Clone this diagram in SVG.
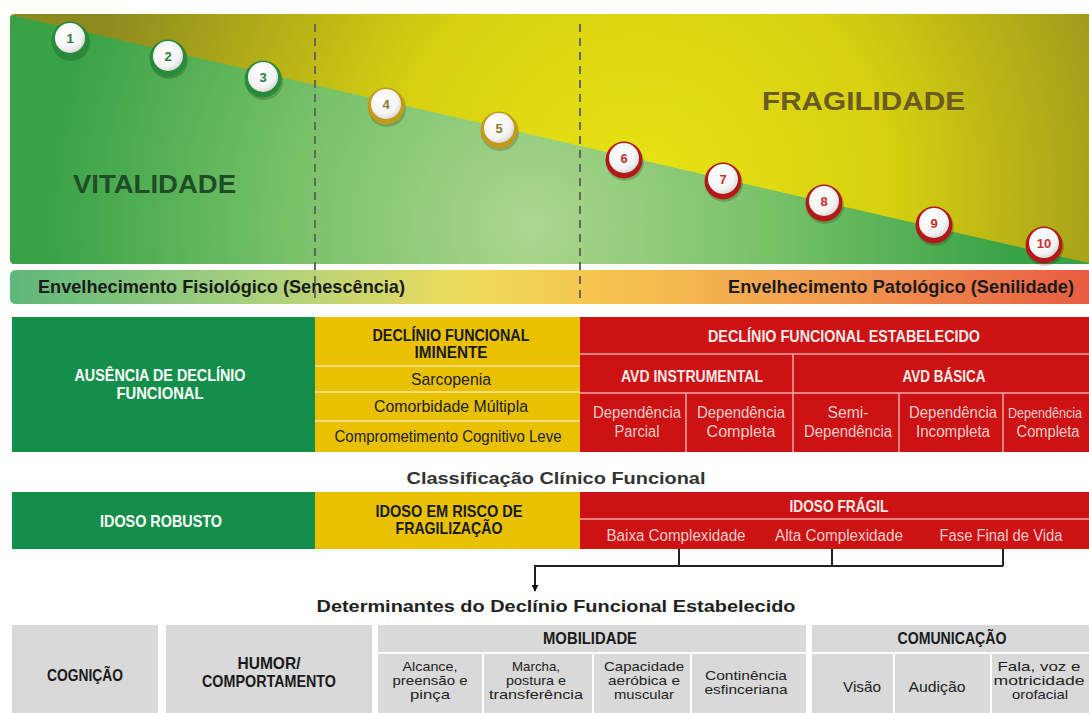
<svg xmlns="http://www.w3.org/2000/svg" width="1089" height="713" viewBox="0 0 1089 713">
<defs>
<radialGradient id="gYellow" cx="640" cy="190" r="560" gradientUnits="userSpaceOnUse">
<stop offset="0" stop-color="#e8e414"/><stop offset="0.45" stop-color="#d6d010"/><stop offset="1" stop-color="#8e8a20"/>
</radialGradient>
<radialGradient id="gGreen" cx="530" cy="225" r="480" gradientUnits="userSpaceOnUse">
<stop offset="0" stop-color="#acd68e"/><stop offset="0.5" stop-color="#78c268"/><stop offset="1" stop-color="#3aa246"/>
</radialGradient>
<linearGradient id="gBand" x1="0" y1="0" x2="1" y2="0">
<stop offset="0" stop-color="#5db77a"/><stop offset="0.22" stop-color="#a6d07e"/><stop offset="0.42" stop-color="#ecdc5c"/><stop offset="0.55" stop-color="#f6c44e"/><stop offset="0.78" stop-color="#f09850"/><stop offset="1" stop-color="#e85c40"/>
</linearGradient>
<radialGradient id="gBall" cx="0.4" cy="0.35" r="0.7">
<stop offset="0" stop-color="#ffffff"/><stop offset="0.7" stop-color="#f4f4f4"/><stop offset="1" stop-color="#d4d4d4"/>
</radialGradient>
<marker id="arr" viewBox="0 0 10 10" refX="9" refY="5" markerWidth="7" markerHeight="7" orient="auto" markerUnits="userSpaceOnUse">
<path d="M0,0 L10,5 L0,10 z" fill="#111"/>
</marker>
<style>
.b{font-family:"Liberation Sans",Arial,sans-serif;font-weight:bold;}
.r{font-family:"Liberation Sans",Arial,sans-serif;}
.c{text-anchor:middle;}
.dash{stroke:#666;stroke-width:2;stroke-dasharray:8,6;fill:none;}
.ringG{fill:#2a8a3c;}
.ringY{fill:#c49a1c;}
.ringR{fill:#b41818;}
.shadow{fill:#000;opacity:0.18;}
.ball{fill:url(#gBall);}
.num{font-family:"Liberation Sans",Arial,sans-serif;font-weight:bold;font-size:13px;text-anchor:middle;}
.wl{stroke:#f3e6a0;stroke-width:1.5;}
.pl{stroke:#f0a8a8;stroke-width:1.5;}
.gr{fill:#d9d9d9;}
.conn{stroke:#222;stroke-width:2;fill:none;}
</style>
</defs>

<g id="panel">
<path d="M15,14 H1089 V264 H15 Q10,264 10,259 V19 Q10,14 15,14 Z" fill="url(#gYellow)"/>
<path d="M11,15 L1089,263 V264 H15 Q10,264 10,259 V19 Z" fill="url(#gGreen)"/>
<text class="b" x="73" y="193" font-size="25" fill="#1e4d26" textLength="163" lengthAdjust="spacingAndGlyphs">VITALIDADE</text>
<text class="b" x="762" y="110" font-size="25" fill="#6b5a22" textLength="203" lengthAdjust="spacingAndGlyphs">FRAGILIDADE</text>
</g>

<g id="band">
<path d="M16,270 H1089 V304 H16 Q10,304 10,298 V276 Q10,270 16,270 Z" fill="url(#gBand)"/>
<text class="b" x="38" y="293" font-size="19" fill="#1a1a1a" textLength="367" lengthAdjust="spacingAndGlyphs">Envelhecimento Fisiológico (Senescência)</text>
<text class="b" x="728" y="293" font-size="19" fill="#1a1a1a" textLength="346" lengthAdjust="spacingAndGlyphs">Envelhecimento Patológico (Senilidade)</text>
</g>

<g id="dividers">
<line class="dash" x1="315" y1="24" x2="315" y2="304"/>
<line class="dash" x1="580" y1="24" x2="580" y2="304"/>
</g>

<g id="balls">
<g id="ball1"><circle class="shadow" cx="71" cy="42" r="19"/><circle class="ringG" cx="70" cy="40" r="18.5"/><circle class="ball" cx="70" cy="38" r="15"/><text class="num" x="70" y="43" fill="#2a7a3c">1</text></g>
<g id="ball2"><circle class="shadow" cx="169" cy="60" r="19"/><circle class="ringG" cx="168" cy="58" r="18.5"/><circle class="ball" cx="168" cy="56" r="15"/><text class="num" x="168" y="61" fill="#2a7a3c">2</text></g>
<g id="ball3"><circle class="shadow" cx="264" cy="81" r="19"/><circle class="ringG" cx="263" cy="79" r="18.5"/><circle class="ball" cx="263" cy="77" r="15"/><text class="num" x="263" y="82" fill="#2a7a3c">3</text></g>
<g id="ball4"><circle class="shadow" cx="387" cy="108" r="19"/><circle class="ringY" cx="386" cy="106" r="18.5"/><circle class="ball" cx="386" cy="104" r="15"/><text class="num" x="386" y="109" fill="#8a7a30">4</text></g>
<g id="ball5"><circle class="shadow" cx="500" cy="132" r="19"/><circle class="ringY" cx="499" cy="130" r="18.5"/><circle class="ball" cx="499" cy="128" r="15"/><text class="num" x="499" y="133" fill="#8a7a30">5</text></g>
<g id="ball6"><circle class="shadow" cx="625" cy="162" r="19"/><circle class="ringR" cx="624" cy="160" r="18.5"/><circle class="ball" cx="624" cy="158" r="15"/><text class="num" x="624" y="163" fill="#d02a2a">6</text></g>
<g id="ball7"><circle class="shadow" cx="724" cy="183" r="19"/><circle class="ringR" cx="723" cy="181" r="18.5"/><circle class="ball" cx="723" cy="179" r="15"/><text class="num" x="723" y="184" fill="#d02a2a">7</text></g>
<g id="ball8"><circle class="shadow" cx="825" cy="205" r="19"/><circle class="ringR" cx="824" cy="203" r="18.5"/><circle class="ball" cx="824" cy="201" r="15"/><text class="num" x="824" y="206" fill="#d02a2a">8</text></g>
<g id="ball9"><circle class="shadow" cx="935" cy="227" r="19"/><circle class="ringR" cx="934" cy="225" r="18.5"/><circle class="ball" cx="934" cy="223" r="15"/><text class="num" x="934" y="228" fill="#d02a2a">9</text></g>
<g id="ball10"><circle class="shadow" cx="1045" cy="247" r="19"/><circle class="ringR" cx="1044" cy="245" r="18.5"/><circle class="ball" cx="1044" cy="243" r="15"/><text class="num" x="1044" y="248" fill="#d02a2a">10</text></g>
</g>

<g id="ausencia">
<rect x="12" y="317" width="303" height="135" fill="#138f4b"/>
<text class="b c" x="160" y="381" font-size="16.5" fill="#ffffff" textLength="171" lengthAdjust="spacingAndGlyphs">AUSÊNCIA DE DECLÍNIO</text>
<text class="b c" x="160" y="399" font-size="16.5" fill="#ffffff" textLength="87" lengthAdjust="spacingAndGlyphs">FUNCIONAL</text>
</g>

<g id="iminente">
<rect x="315" y="317" width="265" height="135" fill="#e9c100"/>
<line class="wl" x1="315" y1="366" x2="580" y2="366"/>
<line class="wl" x1="315" y1="392" x2="580" y2="392"/>
<line class="wl" x1="315" y1="421" x2="580" y2="421"/>
<text class="b c" x="451" y="341" font-size="16.5" fill="#1a1a1a" textLength="157" lengthAdjust="spacingAndGlyphs">DECLÍNIO FUNCIONAL</text>
<text class="b c" x="451" y="358" font-size="16.5" fill="#1a1a1a" textLength="73" lengthAdjust="spacingAndGlyphs">IMINENTE</text>
<text class="r c" x="451" y="385" font-size="16" fill="#222" textLength="80" lengthAdjust="spacingAndGlyphs">Sarcopenia</text>
<text class="r c" x="451" y="412" font-size="16" fill="#222" textLength="154" lengthAdjust="spacingAndGlyphs">Comorbidade Múltipla</text>
<text class="r c" x="448" y="442" font-size="16" fill="#222" textLength="227" lengthAdjust="spacingAndGlyphs">Comprometimento Cognitivo Leve</text>
</g>

<g id="estabelecido">
<rect x="580" y="317" width="509" height="135" fill="#cc1212"/>
<line class="pl" x1="580" y1="354" x2="1089" y2="354"/>
<line class="pl" x1="580" y1="393" x2="1089" y2="393"/>
<line class="pl" x1="793" y1="354" x2="793" y2="452"/>
<line class="pl" x1="686" y1="393" x2="686" y2="452"/>
<line class="pl" x1="899" y1="393" x2="899" y2="452"/>
<line class="pl" x1="1003" y1="393" x2="1003" y2="452"/>
<text class="b c" x="844" y="342" font-size="16.5" fill="#fbeaea" textLength="272" lengthAdjust="spacingAndGlyphs">DECLÍNIO FUNCIONAL ESTABELECIDO</text>
<text class="b c" x="692" y="382" font-size="16.5" fill="#fbeaea" textLength="142" lengthAdjust="spacingAndGlyphs">AVD INSTRUMENTAL</text>
<text class="b c" x="944" y="382" font-size="16.5" fill="#fbeaea" textLength="83" lengthAdjust="spacingAndGlyphs">AVD BÁSICA</text>
<g fill="#f7cccc" font-size="16">
<text class="r c" x="637" y="418" textLength="88" lengthAdjust="spacingAndGlyphs">Dependência</text>
<text class="r c" x="637" y="437" textLength="45" lengthAdjust="spacingAndGlyphs">Parcial</text>
<text class="r c" x="741" y="418" textLength="88" lengthAdjust="spacingAndGlyphs">Dependência</text>
<text class="r c" x="741" y="437" textLength="69" lengthAdjust="spacingAndGlyphs">Completa</text>
<text class="r c" x="848" y="418" textLength="41" lengthAdjust="spacingAndGlyphs">Semi-</text>
<text class="r c" x="848" y="437" textLength="88" lengthAdjust="spacingAndGlyphs">Dependência</text>
<text class="r c" x="953" y="418" textLength="88" lengthAdjust="spacingAndGlyphs">Dependência</text>
<text class="r c" x="953" y="437" textLength="74" lengthAdjust="spacingAndGlyphs">Incompleta</text>
<text class="r c" x="1045" y="418" font-size="14" textLength="74" lengthAdjust="spacingAndGlyphs">Dependência</text>
<text class="r c" x="1048" y="437" textLength="63" lengthAdjust="spacingAndGlyphs">Completa</text>
</g>
</g>

<text class="b c" x="556" y="484" font-size="17" fill="#333" textLength="299" lengthAdjust="spacingAndGlyphs">Classificação Clínico Funcional</text>

<g id="robusto">
<rect x="12" y="492" width="303" height="57" fill="#138f4b"/>
<text class="b c" x="161" y="527" font-size="16.5" fill="#ffffff" textLength="122" lengthAdjust="spacingAndGlyphs">IDOSO ROBUSTO</text>
</g>
<g id="risco">
<rect x="315" y="492" width="265" height="57" fill="#e9c100"/>
<text class="b c" x="449" y="517" font-size="16.5" fill="#1a1a1a" textLength="147" lengthAdjust="spacingAndGlyphs">IDOSO EM RISCO DE</text>
<text class="b c" x="449" y="534" font-size="16.5" fill="#1a1a1a" textLength="107" lengthAdjust="spacingAndGlyphs">FRAGILIZAÇÃO</text>
</g>
<g id="fragil">
<rect x="580" y="492" width="509" height="57" fill="#cc1212"/>
<line class="pl" x1="580" y1="519" x2="1089" y2="519"/>
<text class="b c" x="839" y="512" font-size="16.5" fill="#fbeaea" textLength="99" lengthAdjust="spacingAndGlyphs">IDOSO FRÁGIL</text>
<text class="r c" x="676" y="541" font-size="16" fill="#f7cccc" textLength="139" lengthAdjust="spacingAndGlyphs">Baixa Complexidade</text>
<text class="r c" x="839" y="541" font-size="16" fill="#f7cccc" textLength="128" lengthAdjust="spacingAndGlyphs">Alta Complexidade</text>
<text class="r c" x="1001" y="541" font-size="16" fill="#f7cccc" textLength="123" lengthAdjust="spacingAndGlyphs">Fase Final de Vida</text>
</g>

<g id="connectors">
<path class="conn" d="M679,549 V566 M832,549 V566 M1003,549 V566 M1003,566 H535 V591" marker-end="url(#arr)"/>
</g>

<text class="b c" x="556" y="612" font-size="17" fill="#222" textLength="479" lengthAdjust="spacingAndGlyphs">Determinantes do Declínio Funcional Estabelecido</text>

<g id="cognicao">
<rect class="gr" x="12" y="625" width="146" height="88"/>
<text class="b c" x="85" y="681" font-size="16.5" fill="#1a1a1a" textLength="76" lengthAdjust="spacingAndGlyphs">COGNIÇÃO</text>
</g>
<g id="humor">
<rect class="gr" x="166" y="625" width="206" height="88"/>
<text class="b c" x="269" y="669" font-size="16.5" fill="#1a1a1a" textLength="63" lengthAdjust="spacingAndGlyphs">HUMOR/</text>
<text class="b c" x="269" y="687" font-size="16.5" fill="#1a1a1a" textLength="134" lengthAdjust="spacingAndGlyphs">COMPORTAMENTO</text>
</g>
<g id="mobilidade">
<rect class="gr" x="378" y="625" width="428" height="27"/>
<text class="b c" x="590" y="644" font-size="16.5" fill="#1a1a1a" textLength="94" lengthAdjust="spacingAndGlyphs">MOBILIDADE</text>
<rect class="gr" x="378" y="654" width="104" height="59"/>
<rect class="gr" x="484" y="654" width="108" height="59"/>
<rect class="gr" x="594" y="654" width="96" height="59"/>
<rect class="gr" x="692" y="654" width="114" height="59"/>
<g font-size="13.5" fill="#222">
<text class="r c" x="430" y="671" textLength="55" lengthAdjust="spacingAndGlyphs">Alcance,</text>
<text class="r c" x="430" y="685" textLength="75" lengthAdjust="spacingAndGlyphs">preensão e</text>
<text class="r c" x="430" y="699" textLength="40" lengthAdjust="spacingAndGlyphs">pinça</text>
<text class="r c" x="536" y="671" textLength="48" lengthAdjust="spacingAndGlyphs">Marcha,</text>
<text class="r c" x="536" y="685" textLength="60" lengthAdjust="spacingAndGlyphs">postura e</text>
<text class="r c" x="536" y="699" textLength="94" lengthAdjust="spacingAndGlyphs">transferência</text>
<text class="r c" x="644" y="671" textLength="80" lengthAdjust="spacingAndGlyphs">Capacidade</text>
<text class="r c" x="644" y="685" textLength="72" lengthAdjust="spacingAndGlyphs">aeróbica e</text>
<text class="r c" x="644" y="699" textLength="60" lengthAdjust="spacingAndGlyphs">muscular</text>
<text class="r c" x="746" y="680" textLength="82" lengthAdjust="spacingAndGlyphs">Continência</text>
<text class="r c" x="746" y="694" textLength="83" lengthAdjust="spacingAndGlyphs">esfincerianа</text>
</g>
</g>
<g id="comunicacao">
<rect class="gr" x="812" y="625" width="277" height="27"/>
<text class="b c" x="952" y="644" font-size="16.5" fill="#1a1a1a" textLength="109" lengthAdjust="spacingAndGlyphs">COMUNICAÇÃO</text>
<rect class="gr" x="812" y="654" width="81" height="59"/>
<rect class="gr" x="895" y="654" width="95" height="59"/>
<rect class="gr" x="992" y="654" width="97" height="59"/>
<g font-size="13.5" fill="#222">
<text class="r c" x="862" y="692" font-size="15" textLength="38" lengthAdjust="spacingAndGlyphs">Visão</text>
<text class="r c" x="937" y="692" font-size="15" textLength="57" lengthAdjust="spacingAndGlyphs">Audição</text>
<text class="r c" x="1039" y="671" textLength="83" lengthAdjust="spacingAndGlyphs">Fala, voz e</text>
<text class="r c" x="1039" y="685" textLength="91" lengthAdjust="spacingAndGlyphs">motricidade</text>
<text class="r c" x="1040" y="699" textLength="56" lengthAdjust="spacingAndGlyphs">orofacial</text>
</g>
</g>
</svg>
